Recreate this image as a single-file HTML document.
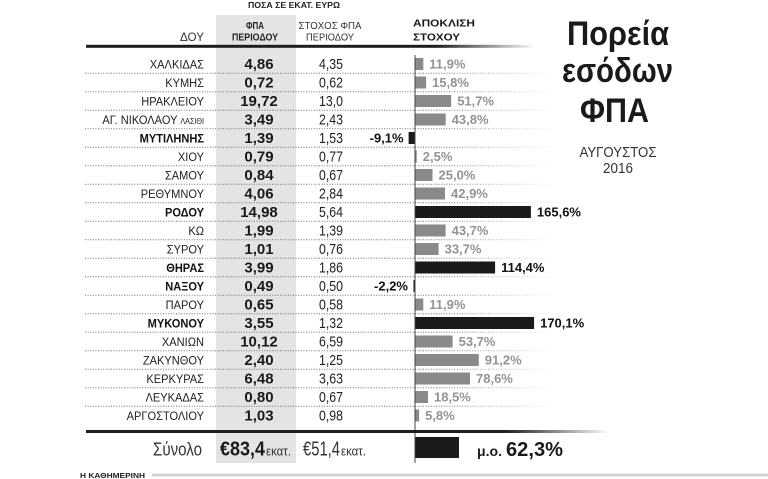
<!DOCTYPE html>
<html><head><meta charset="utf-8"><style>
html,body{margin:0;padding:0;background:#fff;}
svg{display:block;}
text{font-family:"Liberation Sans",Arial,sans-serif;}
</style></head><body>
<svg width="768" height="479" viewBox="0 0 768 479" xmlns="http://www.w3.org/2000/svg">
<defs>
<linearGradient id="hf" gradientUnits="userSpaceOnUse" x1="86" y1="0" x2="536" y2="0">
<stop offset="0" stop-color="#1e1e1e"/><stop offset="0.78" stop-color="#1e1e1e"/><stop offset="1" stop-color="#1e1e1e" stop-opacity="0"/></linearGradient>
<linearGradient id="df" gradientUnits="userSpaceOnUse" x1="85" y1="0" x2="560" y2="0">
<stop offset="0" stop-color="#6e6e6e"/><stop offset="0.75" stop-color="#6e6e6e"/><stop offset="1" stop-color="#6e6e6e" stop-opacity="0"/></linearGradient>
<linearGradient id="bf" gradientUnits="userSpaceOnUse" x1="86" y1="0" x2="610" y2="0">
<stop offset="0" stop-color="#1e1e1e"/><stop offset="0.8" stop-color="#1e1e1e"/><stop offset="1" stop-color="#1e1e1e" stop-opacity="0"/></linearGradient>
</defs>

<!-- gray band -->
<rect x="216" y="15" width="80" height="448" fill="#e4e4e4"/>

<!-- top header -->
<text x="248" y="8" font-size="8.5" font-weight="bold" fill="#222" textLength="92" lengthAdjust="spacingAndGlyphs">ΠΟΣΑ ΣΕ ΕΚΑΤ. ΕΥΡΩ</text>
<text x="255" y="29" font-size="10" font-weight="bold" fill="#222" text-anchor="middle" textLength="18" lengthAdjust="spacingAndGlyphs">ΦΠΑ</text>
<text x="255" y="40.5" font-size="10" font-weight="bold" fill="#222" text-anchor="middle" textLength="46" lengthAdjust="spacingAndGlyphs">ΠΕΡΙΟΔΟΥ</text>
<text x="330" y="29" font-size="10.5" fill="#333" text-anchor="middle" textLength="63" lengthAdjust="spacingAndGlyphs">ΣΤΟΧΟΣ ΦΠΑ</text>
<text x="330" y="40.5" font-size="10.5" fill="#333" text-anchor="middle" textLength="48" lengthAdjust="spacingAndGlyphs">ΠΕΡΙΟΔΟΥ</text>
<text x="204" y="41" font-size="12" fill="#333" text-anchor="end" textLength="24" lengthAdjust="spacingAndGlyphs">ΔΟΥ</text>
<text x="413" y="26.5" font-size="10.5" font-weight="bold" fill="#1a1a1a" textLength="62" lengthAdjust="spacingAndGlyphs">ΑΠΟΚΛΙΣΗ</text>
<text x="413" y="40.5" font-size="10.5" font-weight="bold" fill="#1a1a1a" textLength="47" lengthAdjust="spacingAndGlyphs">ΣΤΟΧΟΥ</text>

<!-- header line -->
<rect x="86" y="44.8" width="450" height="3" fill="url(#hf)"/>

<!-- dotted separators -->
<g stroke="url(#df)" stroke-width="1" stroke-dasharray="1 1.6" fill="none">
<line x1="85" y1="73.25" x2="560" y2="73.25"/>
<line x1="85" y1="91.75" x2="560" y2="91.75"/>
<line x1="85" y1="110.25" x2="560" y2="110.25"/>
<line x1="85" y1="128.75" x2="560" y2="128.75"/>
<line x1="85" y1="147.25" x2="560" y2="147.25"/>
<line x1="85" y1="165.75" x2="560" y2="165.75"/>
<line x1="85" y1="184.25" x2="560" y2="184.25"/>
<line x1="85" y1="202.75" x2="560" y2="202.75"/>
<line x1="85" y1="221.25" x2="560" y2="221.25"/>
<line x1="85" y1="239.75" x2="560" y2="239.75"/>
<line x1="85" y1="258.25" x2="560" y2="258.25"/>
<line x1="85" y1="276.75" x2="560" y2="276.75"/>
<line x1="85" y1="295.25" x2="560" y2="295.25"/>
<line x1="85" y1="313.75" x2="560" y2="313.75"/>
<line x1="85" y1="332.25" x2="560" y2="332.25"/>
<line x1="85" y1="350.75" x2="560" y2="350.75"/>
<line x1="85" y1="369.25" x2="560" y2="369.25"/>
<line x1="85" y1="387.75" x2="560" y2="387.75"/>
<line x1="85" y1="406.25" x2="560" y2="406.25"/>
</g>

<!-- names -->
<g transform="matrix(0.9 0 0 1 20.4 0)" font-size="12.3" fill="#222" text-anchor="end">
<text x="204" y="68.3">ΧΑΛΚΙΔΑΣ</text>
<text x="204" y="86.8">ΚΥΜΗΣ</text>
<text x="204" y="105.3">ΗΡΑΚΛΕΙΟΥ</text>
<text x="204" y="123.8">ΑΓ. ΝΙΚΟΛΑΟΥ <tspan font-size="8">ΛΑΣΙΘΙ</tspan></text>
<text x="204" y="142.3" font-weight="bold" fill="#111">ΜΥΤΙΛΗΝΗΣ</text>
<text x="204" y="160.8">ΧΙΟΥ</text>
<text x="204" y="179.3">ΣΑΜΟΥ</text>
<text x="204" y="197.8">ΡΕΘΥΜΝΟΥ</text>
<text x="204" y="216.3" font-weight="bold" fill="#111">ΡΟΔΟΥ</text>
<text x="204" y="234.8">ΚΩ</text>
<text x="204" y="253.3">ΣΥΡΟΥ</text>
<text x="204" y="271.8" font-weight="bold" fill="#111">ΘΗΡΑΣ</text>
<text x="204" y="290.3" font-weight="bold" fill="#111">ΝΑΞΟΥ</text>
<text x="204" y="308.8">ΠΑΡΟΥ</text>
<text x="204" y="327.3" font-weight="bold" fill="#111">ΜΥΚΟΝΟΥ</text>
<text x="204" y="345.8">ΧΑΝΙΩΝ</text>
<text x="204" y="364.3">ΖΑΚΥΝΘΟΥ</text>
<text x="204" y="382.8">ΚΕΡΚΥΡΑΣ</text>
<text x="204" y="401.3">ΛΕΥΚΑΔΑΣ</text>
<text x="204" y="419.8">ΑΡΓΟΣΤΟΛΙΟΥ</text>
</g>

<!-- FPA values -->
<g font-size="15" font-weight="bold" fill="#1a1a1a" text-anchor="middle">
<text x="259" y="69.2">4,86</text>
<text x="259" y="87.7">0,72</text>
<text x="259" y="106.2">19,72</text>
<text x="259" y="124.7">3,49</text>
<text x="259" y="143.2">1,39</text>
<text x="259" y="161.7">0,79</text>
<text x="259" y="180.2">0,84</text>
<text x="259" y="198.7">4,06</text>
<text x="259" y="217.2">14,98</text>
<text x="259" y="235.7">1,99</text>
<text x="259" y="254.2">1,01</text>
<text x="259" y="272.7">3,99</text>
<text x="259" y="291.2">0,49</text>
<text x="259" y="309.7">0,65</text>
<text x="259" y="328.2">3,55</text>
<text x="259" y="346.7">10,12</text>
<text x="259" y="365.2">2,40</text>
<text x="259" y="383.7">6,48</text>
<text x="259" y="402.2">0,80</text>
<text x="259" y="420.7">1,03</text>
</g>

<!-- target values -->
<g transform="matrix(0.85 0 0 1 49.65 0)" font-size="14.5" fill="#222" text-anchor="middle">
<text x="331" y="69.2">4,35</text>
<text x="331" y="87.7">0,62</text>
<text x="331" y="106.2">13,0</text>
<text x="331" y="124.7">2,43</text>
<text x="331" y="143.2">1,53</text>
<text x="331" y="161.7">0,77</text>
<text x="331" y="180.2">0,67</text>
<text x="331" y="198.7">2,84</text>
<text x="331" y="217.2">5,64</text>
<text x="331" y="235.7">1,39</text>
<text x="331" y="254.2">0,76</text>
<text x="331" y="272.7">1,86</text>
<text x="331" y="291.2">0,50</text>
<text x="331" y="309.7">0,58</text>
<text x="331" y="328.2">1,32</text>
<text x="331" y="346.7">6,59</text>
<text x="331" y="365.2">1,25</text>
<text x="331" y="383.7">3,63</text>
<text x="331" y="402.2">0,67</text>
<text x="331" y="420.7">0,98</text>
</g>

<!-- bars -->
<g fill="#8a8a8a">
<rect x="415" y="58" width="8.3" height="12"/>
<rect x="415" y="76.5" width="11.1" height="12"/>
<rect x="415" y="95" width="36.2" height="12"/>
<rect x="415" y="113.5" width="30.7" height="12"/>
<rect x="415" y="150.5" width="1.75" height="12"/>
<rect x="415" y="169" width="17.5" height="12"/>
<rect x="415" y="187.5" width="30" height="12"/>
<rect x="415" y="224.5" width="30.6" height="12"/>
<rect x="415" y="243" width="23.6" height="12"/>
<rect x="415" y="298.5" width="8.3" height="12"/>
<rect x="415" y="335.5" width="37.6" height="12"/>
<rect x="415" y="354" width="63.8" height="12"/>
<rect x="415" y="372.5" width="55" height="12"/>
<rect x="415" y="391" width="13" height="12"/>
<rect x="415" y="409.5" width="4.1" height="12"/>
</g>
<g fill="#1a1a1a">
<rect x="408.6" y="132" width="6.4" height="12"/>
<rect x="415" y="206" width="115.9" height="12"/>
<rect x="415" y="261.5" width="80.1" height="12"/>
<rect x="413.5" y="280" width="1.5" height="12"/>
<rect x="415" y="317" width="119.1" height="12"/>
<rect x="415" y="437" width="44" height="21"/>
</g>

<!-- axis -->
<line x1="415" y1="55" x2="415" y2="463" stroke="#444" stroke-width="1"/>

<!-- bar labels -->
<g font-size="13" font-weight="bold" fill="#939393">
<text x="429.3" y="68.6">11,9%</text>
<text x="432.1" y="87.1">15,8%</text>
<text x="457.2" y="105.6">51,7%</text>
<text x="451.7" y="124.1">43,8%</text>
<text x="422.75" y="161.1">2,5%</text>
<text x="438.5" y="179.6">25,0%</text>
<text x="451" y="198.1">42,9%</text>
<text x="451.6" y="235.1">43,7%</text>
<text x="444.6" y="253.6">33,7%</text>
<text x="429.3" y="309.1">11,9%</text>
<text x="458.6" y="346.1">53,7%</text>
<text x="484.8" y="364.6">91,2%</text>
<text x="476" y="383.1">78,6%</text>
<text x="434" y="401.6">18,5%</text>
<text x="425.1" y="420.1">5,8%</text>
</g>
<g font-size="13" font-weight="bold" fill="#111">
<text x="403.6" y="142.6" text-anchor="end">-9,1%</text>
<text x="536.9" y="216.6">165,6%</text>
<text x="501.1" y="272.1">114,4%</text>
<text x="408" y="290.6" text-anchor="end">-2,2%</text>
<text x="540.1" y="327.6">170,1%</text>
</g>

<!-- bottom thick line -->
<rect x="86" y="430" width="524" height="3" fill="url(#bf)"/>

<!-- totals -->
<text x="202" y="455.5" font-size="18" fill="#333" text-anchor="end" textLength="49" lengthAdjust="spacingAndGlyphs">Σύνολο</text>
<text x="220" y="455.5" font-size="20" font-weight="bold" fill="#1a1a1a" textLength="45" lengthAdjust="spacingAndGlyphs">€83,4</text>
<text x="266" y="455.5" font-size="12.5" fill="#333" textLength="25" lengthAdjust="spacingAndGlyphs">εκατ.</text>
<text x="303" y="455.5" font-size="20" fill="#333" textLength="37" lengthAdjust="spacingAndGlyphs">€51,4</text>
<text x="341" y="455.5" font-size="12.5" fill="#333" textLength="25" lengthAdjust="spacingAndGlyphs">εκατ.</text>
<text x="477" y="456" font-size="14" font-weight="bold" fill="#1a1a1a" textLength="25" lengthAdjust="spacingAndGlyphs">μ.ο.</text>
<text x="506" y="456" font-size="20" font-weight="bold" fill="#1a1a1a" textLength="57" lengthAdjust="spacingAndGlyphs">62,3%</text>

<!-- title -->
<text x="618" y="45" font-size="34" font-weight="bold" fill="#1a1a1a" text-anchor="middle" textLength="102" lengthAdjust="spacingAndGlyphs">Πορεία</text>
<text x="617.5" y="82" font-size="34" font-weight="bold" fill="#1a1a1a" text-anchor="middle" textLength="111" lengthAdjust="spacingAndGlyphs">εσόδων</text>
<text x="614.5" y="122" font-size="34" font-weight="bold" fill="#1a1a1a" text-anchor="middle" textLength="69" lengthAdjust="spacingAndGlyphs">ΦΠΑ</text>
<text x="618" y="157" font-size="14.5" fill="#333" text-anchor="middle" textLength="77" lengthAdjust="spacingAndGlyphs">ΑΥΓΟΥΣΤΟΣ</text>
<text x="618" y="173" font-size="14.5" fill="#333" text-anchor="middle" textLength="30" lengthAdjust="spacingAndGlyphs">2016</text>

<!-- footer -->
<text x="80" y="478" font-size="7.5" font-weight="bold" fill="#222" textLength="65" lengthAdjust="spacingAndGlyphs">Η ΚΑΘΗΜΕΡΙΝΗ</text>
<rect x="152" y="473.5" width="616" height="3" fill="#d4d4d4"/>
</svg>
</body></html>
